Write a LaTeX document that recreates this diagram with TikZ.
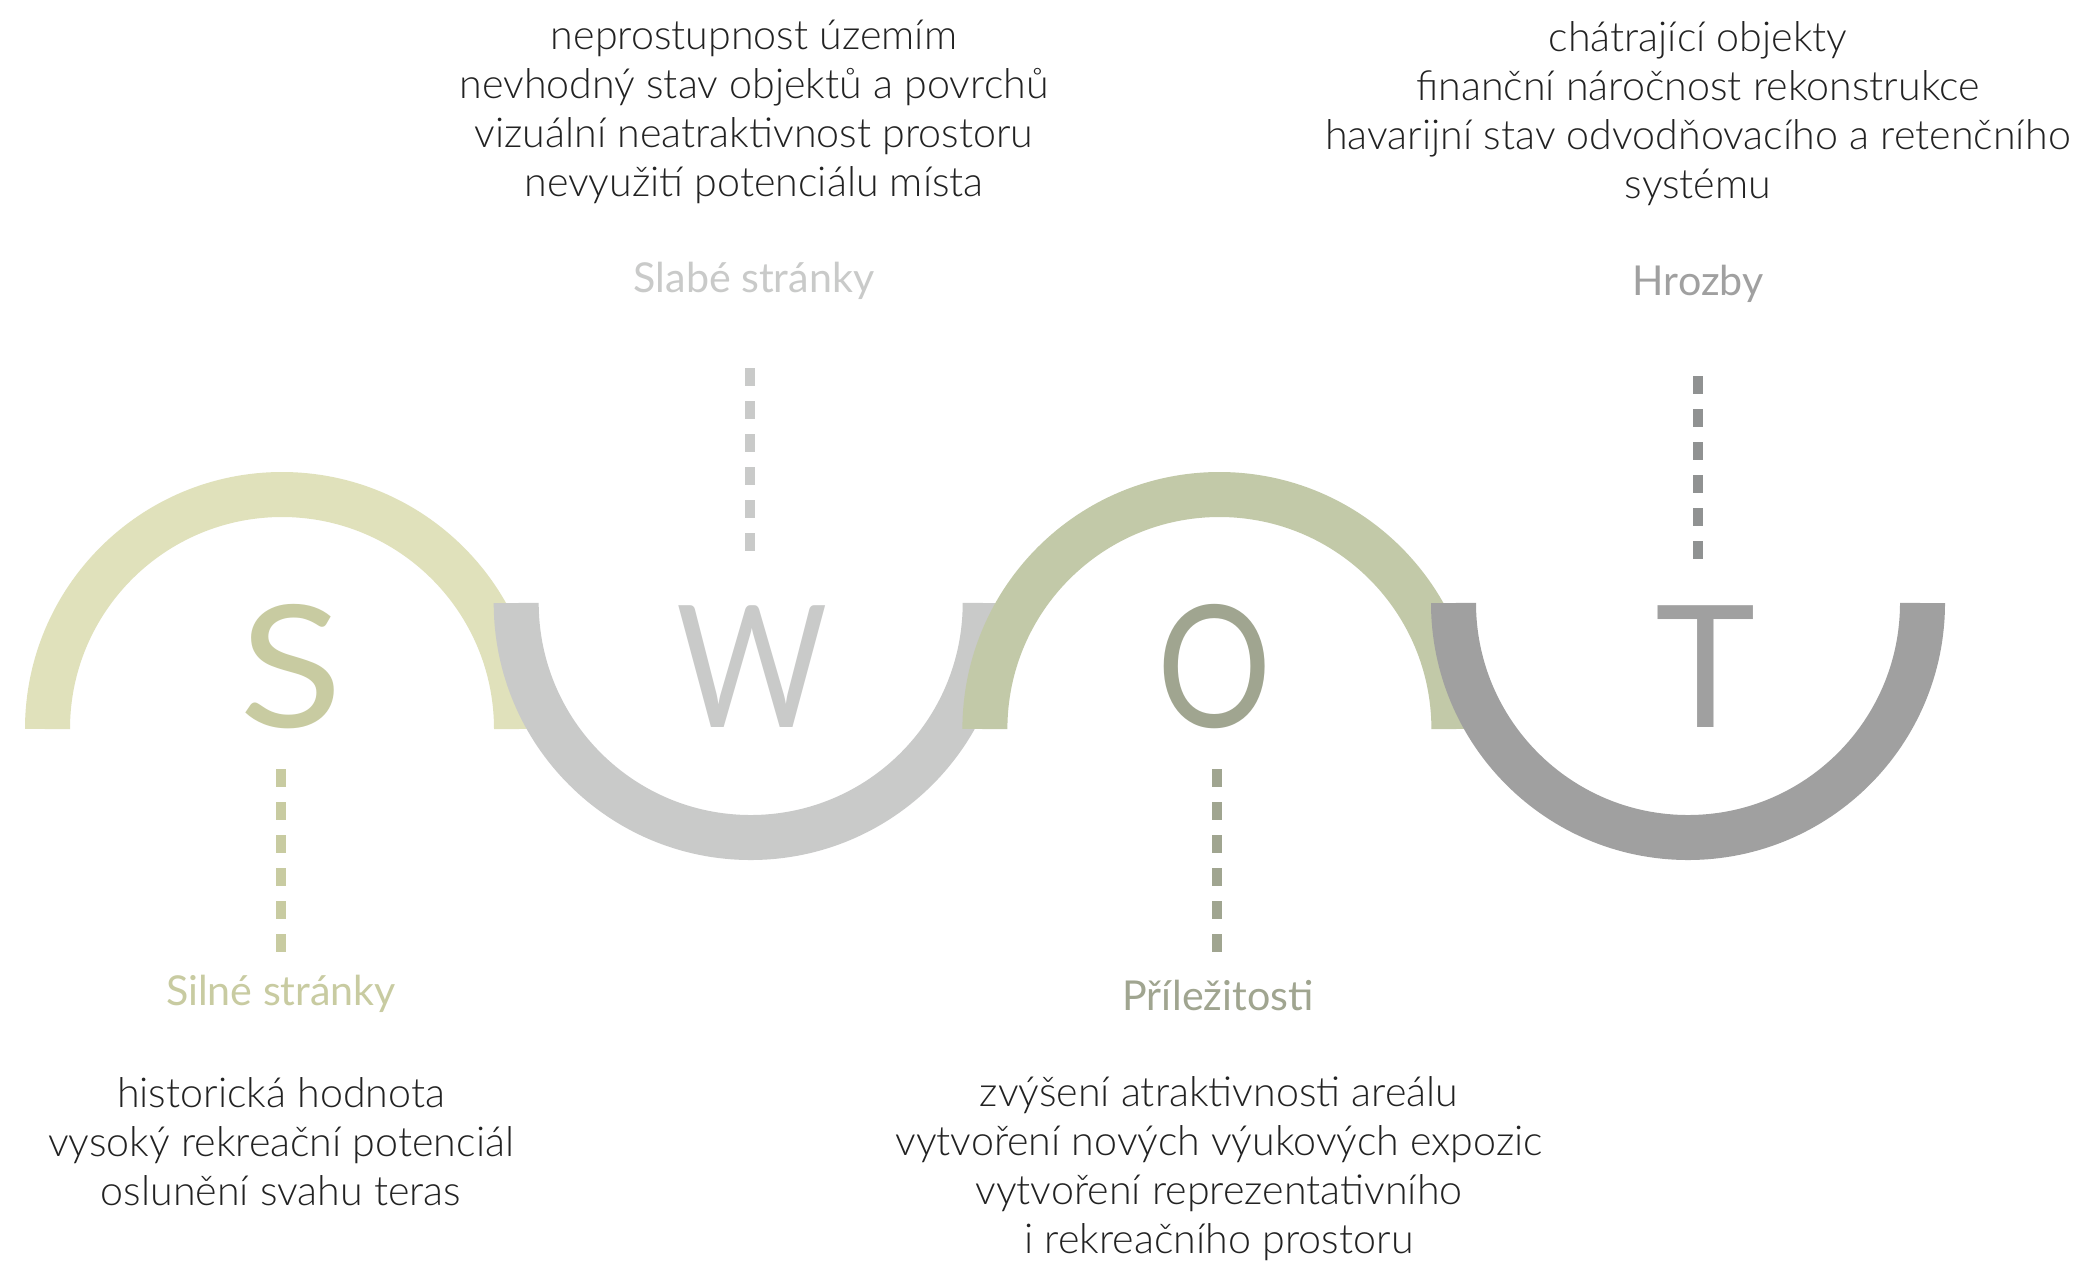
\documentclass[tikz,border=0pt]{standalone}
\usepackage{fontspec}
\setmainfont{Lato}[UprightFont={* Light}]
\newfontfamily\titlefont{Lato}
\definecolor{ringS}{HTML}{E0E1BB}
\definecolor{colS}{HTML}{C8CBA1}
\definecolor{ringW}{HTML}{C9CAC9}
\definecolor{colW}{HTML}{C9CAC9}
\definecolor{ringO}{HTML}{C2C9A8}
\definecolor{colO}{HTML}{A0A590}
\definecolor{ringT}{HTML}{A0A0A0}
\definecolor{colT}{HTML}{A0A0A0}
\definecolor{dashT}{HTML}{909292}
\definecolor{bodyc}{HTML}{222222}
\begin{document}
\begin{tikzpicture}[x=0.5pt,y=0.5pt,
  ring/.style={line width=22.5pt},
  dashline/.style={line width=5pt, dash pattern=on 9pt off 7.5pt},
  body/.style={align=center, text=bodyc, font=\fontsize{20.6}{24.5}\selectfont, inner sep=0pt},
  ttl/.style={font=\titlefont\fontsize{20.6}{24}\selectfont, inner sep=0pt},
  big/.style={font=\titlefont\fontsize{85}{85}\selectfont, inner sep=0pt, anchor=base}]
\useasboundingbox (0,0) rectangle (2078,-1260);
\fill[white] (0,0) rectangle (2078,-1260);
% rings
\draw[ring, ringS] (47.5,-729) arc[start angle=180, end angle=0, radius=234.5];
\draw[ring, ringW] (516.2,-603) arc[start angle=180, end angle=360, radius=234.5];
\draw[ring, ringO] (984.9,-729) arc[start angle=180, end angle=0, radius=234.5];
\draw[ring, ringT] (1453.5,-603) arc[start angle=180, end angle=360, radius=234.5];
% letters
\node[big, text=colS] (letS) at (291,-727) {\scalebox{1.12}[1]{S}};
\node[big, text=colW] (letW) at (752,-727) {\scalebox{0.86}[1]{W}};
\node[big, text=colO] (letO) at (1215,-727) {\scalebox{0.84}[1]{O}};
\node[big, text=colT] (letT) at (1706,-727) {T};
% dashed connectors
\coordinate (sA) at (281,-769); \coordinate (sB) at (281,-952);
\coordinate (wA) at (750,-368); \coordinate (wB) at (750,-552);
\coordinate (oA) at (1217,-769); \coordinate (oB) at (1217,-952);
\coordinate (tA) at (1698,-376); \coordinate (tB) at (1698,-559);
\draw[dashline, colS] (sA) -- (sB);
\draw[dashline, colW] (wA) -- (wB);
\draw[dashline, colO] (oA) -- (oB);
\draw[dashline, dashT] (tA) -- (tB);
% titles
\node[ttl, text=colS] (tS) at (281,-994) {Silné stránky};
\node[ttl, text=colW] (tW) at (754,-281) {Slabé stránky};
\node[ttl, text=colO] (tO) at (1218,-995) {Příležitosti};
\node[ttl, text=colT] (tT) at (1698,-284) {Hrozby};
% body texts
\node[body] (bW) at (754,-112) {neprostupnost územím\\nevhodný stav objektů a povrchů\\vizuální neatraktivnost prostoru\\nevyužití potenciálu místa};
\node[body] (bT) at (1698,-114) {chátrající objekty\\finanční náročnost rekonstrukce\\havarijní stav odvodňovacího a retenčního\\systému};
\node[body] (bS) at (281,-1142) {historická hodnota\\vysoký rekreační potenciál\\oslunění svahu teras};
\node[body] (bO) at (1219,-1168.5) {zvýšení atraktivnosti areálu\\vytvoření nových výukových expozic\\vytvoření reprezentativního\\i rekreačního prostoru};
\end{tikzpicture}
\end{document}
